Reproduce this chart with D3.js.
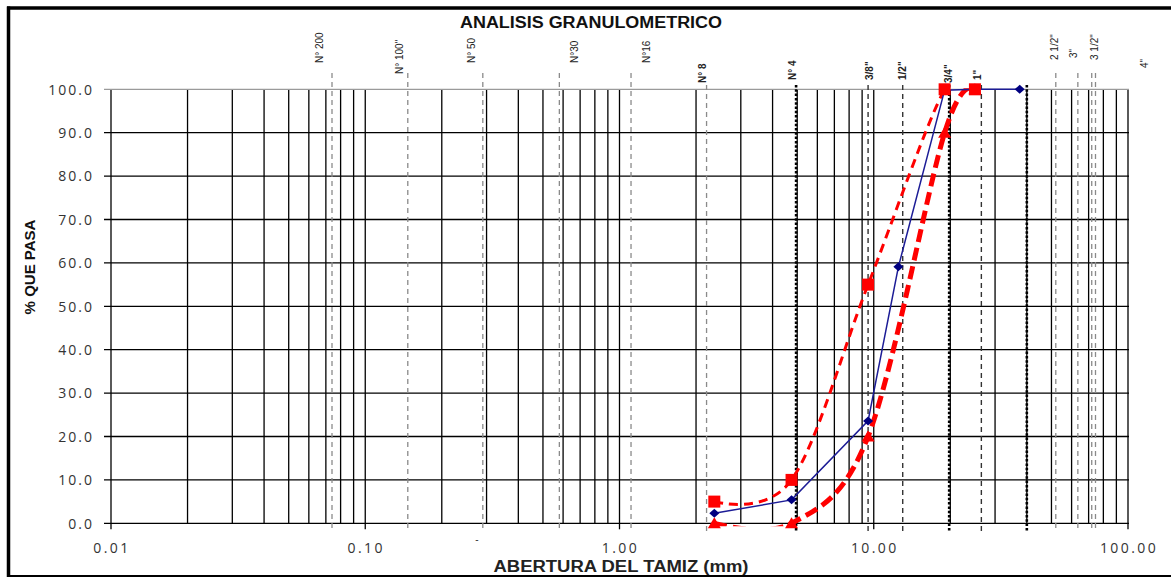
<!DOCTYPE html>
<html>
<head>
<meta charset="utf-8">
<script src="https://cdn.jsdelivr.net/npm/d3@7"></script>
<style>
  html, body { margin: 0; padding: 0; background: #fff; }
  svg { display: block; }
</style>
</head>
<body>
<svg id="chart" width="1171" height="577"></svg>
<script>
// ---- Data -------------------------------------------------------------
// Sample gradation (% passing) at each sieve opening (mm)
const aberturaMuestra = [2.36, 4.75, 9.5, 12.5, 19, 25, 37.5];
const pasaMuestra     = [2.3, 5.4, 23.6, 59.1, 99.8, 100, 100];

// Specification band (upper / lower limits)
const aberturaHuso = [2.36, 4.75, 9.5, 19, 25];
const pasaHusoSup  = [5, 10, 55, 100, 100];
const pasaHusoInf  = [0, 0, 20, 90, 100];

// Vertical reference lines for the standard sieves (mm)
const tamizLineas = [0.074, 0.147, 0.29, 0.58, 1.11, 2.2, 4.95, 9.5, 13, 19.8, 26.5, 40, 52, 63.5, 72, 74.5];

// Sieve names and the opening (mm) each name is written at
const tamizNombres = ['N° 200', 'N° 100"', 'N° 50', 'N°30', 'N°16', 'N° 8', 'N° 4',
                      '3/8"', '1/2"', '3/4"', '1"', '2 1/2"', '3"', '3 1/2"', '4"'];
const tamizRotuloEn = [0.066, 0.136, 0.261, 0.665, 1.277, 2.12, 4.8,
                       9.64, 13.0, 19.6, 25.7, 51.6, 61.3, 73.5, 115.6];

// Axis ticks
const yTicks = [0, 10, 20, 30, 40, 50, 60, 70, 80, 90, 100];
const xTicks = [0.01, 0.1, 1, 10, 100];
const xTickLabels = ['0.01', '0.10', '1.00', '10.00', '100.00'];

// ---- Layout -----------------------------------------------------------
const svg = d3.select('#chart');
const plot = { left: 111, right: 1128, top: 89.3, bottom: 523.3 };

const x = d3.scaleLog().domain([0.01, 100]).range([plot.left, plot.right]);
const y = d3.scaleLinear().domain([0, 100]).range([plot.bottom, plot.top]);

// Outer frame
svg.append('line').attr('x1', 7).attr('x2', 1171).attr('y1', 8).attr('y2', 8)
  .attr('stroke', '#000').attr('stroke-width', 3.5);
svg.append('line').attr('x1', 8.5).attr('x2', 8.5).attr('y1', 6.5).attr('y2', 577)
  .attr('stroke', '#000').attr('stroke-width', 3.5);
svg.append('line').attr('x1', 7).attr('x2', 1171).attr('y1', 576).attr('y2', 576)
  .attr('stroke', '#000').attr('stroke-width', 2);

// Log gridlines (1..9 in every decade)
const minorGrid = [];
for (let e = -2; e <= 1; e++) {
  for (let k = 1; k <= 9; k++) minorGrid.push(k * Math.pow(10, e));
}
minorGrid.push(100);

const grid = svg.append('g').attr('class', 'grid');
grid.selectAll('line.v').data(minorGrid).join('line')
  .attr('class', 'v')
  .attr('x1', d => x(d)).attr('x2', d => x(d))
  .attr('y1', plot.top).attr('y2', plot.bottom)
  .attr('stroke', '#000').attr('stroke-width', 1.3);

grid.selectAll('line.h').data(yTicks).join('line')
  .attr('class', 'h')
  .attr('x1', plot.left - 7).attr('x2', plot.right + 1)
  .attr('y1', d => y(d)).attr('y2', d => y(d))
  .attr('stroke', d => d === 100 ? '#9a9a9a' : '#000')
  .attr('stroke-width', 1.3);

// Decade tick marks below the x axis
grid.selectAll('line.xt').data(xTicks).join('line')
  .attr('class', 'xt')
  .attr('x1', d => x(d)).attr('x2', d => x(d))
  .attr('y1', plot.bottom).attr('y2', plot.bottom + 6)
  .attr('stroke', '#000').attr('stroke-width', 1.3);

// Sieve reference lines
const heavy = new Set([4.95, 19.8, 40]);
const dark = new Set([9.5, 13, 26.5]);
svg.append('g').selectAll('line').data(tamizLineas).join('line')
  .attr('x1', d => x(d)).attr('x2', d => x(d))
  .attr('y1', d => (d >= 2 && d <= 45) ? 85 : 73).attr('y2', 531)
  .attr('stroke', d => heavy.has(d) ? '#000' : dark.has(d) ? '#333' : '#8a8a8a')
  .attr('stroke-width', d => heavy.has(d) ? 2.6 : dark.has(d) ? 1.4 : 1.3)
  .attr('stroke-dasharray', d => heavy.has(d) ? '2.5,1.8' : '5,4');

// Sieve names, written vertically above the plot
const rotuloBase = [63, 74, 63, 63, 63, 83, 80, 80, 80, 83, 80, 60, 58, 60, 68];
const boldNames = new Set([5, 6, 7, 8, 9, 10]);
svg.append('g').selectAll('text').data(tamizNombres).join('text')
  .attr('transform', (d, i) => `translate(${x(tamizRotuloEn[i])},${rotuloBase[i]}) rotate(-90)`)
  .attr('dy', '0.35em')
  .attr('font-family', 'Liberation Sans, Arial, sans-serif')
  .attr('font-size', 10)
  .attr('font-weight', (d, i) => boldNames.has(i) ? 'bold' : 'normal')
  .attr('fill', '#222')
  .text(d => d);

// Axis tick labels
svg.append('g').selectAll('text').data(yTicks).join('text')
  .attr('x', 92).attr('y', d => y(d) + 5.3)
  .attr('text-anchor', 'end')
  .attr('font-family', 'Open Sans, sans-serif')
  .attr('font-size', 14)
  .attr('letter-spacing', '2px')
  .attr('dx', 2)
  .attr('fill', '#333')
  .text(d => d.toFixed(1));

svg.append('g').selectAll('text').data(xTicks).join('text')
  .attr('x', d => x(d) + 1).attr('y', 553)
  .attr('text-anchor', 'middle')
  .attr('font-family', 'Open Sans, sans-serif')
  .attr('font-size', 14)
  .attr('letter-spacing', '2.4px')
  .attr('fill', '#333')
  .text((d, i) => xTickLabels[i]);

// Stray dash below the axis
svg.append('text').attr('x', 477).attr('y', 543)
  .attr('text-anchor', 'middle')
  .attr('font-family', 'Liberation Sans, Arial, sans-serif')
  .attr('font-size', 10).attr('fill', '#333').text('-');

// Titles
svg.append('text').attr('x', 591).attr('y', 27.5)
  .attr('text-anchor', 'middle')
  .attr('font-family', 'Liberation Sans, Arial, sans-serif')
  .attr('font-weight', 'bold').attr('font-size', 16)
  .attr('textLength', 262).attr('lengthAdjust', 'spacingAndGlyphs')
  .attr('fill', '#111')
  .text('ANALISIS GRANULOMETRICO');

svg.append('text').attr('x', 621).attr('y', 572)
  .attr('text-anchor', 'middle')
  .attr('font-family', 'Liberation Sans, Arial, sans-serif')
  .attr('font-weight', 'bold').attr('font-size', 16)
  .attr('textLength', 255).attr('lengthAdjust', 'spacingAndGlyphs')
  .attr('fill', '#222')
  .text('ABERTURA DEL TAMIZ (mm)');

svg.append('text')
  .attr('transform', 'translate(35,267) rotate(-90)')
  .attr('text-anchor', 'middle')
  .attr('font-family', 'Liberation Sans, Arial, sans-serif')
  .attr('font-weight', 'bold').attr('font-size', 15)
  .attr('fill', '#111')
  .text('% QUE PASA');

// ---- Curves -----------------------------------------------------------
svg.append('clipPath').attr('id', 'plotClip')
  .append('rect')
  .attr('x', plot.left).attr('y', plot.top - 1)
  .attr('width', plot.right - plot.left).attr('height', plot.bottom - plot.top + 4);

const curves = svg.append('g').attr('clip-path', 'url(#plotClip)');
// Smoothed band limits (uniform Catmull-Rom / cardinal with zero tension)
const smooth = d3.line().x(d => x(d[0])).y(d => y(d[1])).curve(d3.curveCardinal.tension(0));
const straight = d3.line().x(d => x(d[0])).y(d => y(d[1]));

const inf = aberturaHuso.map((a, i) => [a, pasaHusoInf[i]]);
const sup = aberturaHuso.map((a, i) => [a, pasaHusoSup[i]]);
const muestra = aberturaMuestra.map((a, i) => [a, pasaMuestra[i]]);

curves.append('path').attr('d', smooth(inf))
  .attr('fill', 'none').attr('stroke', '#ff0000')
  .attr('stroke-width', 5).attr('stroke-dasharray', '13,6');

curves.append('path').attr('d', smooth(sup))
  .attr('fill', 'none').attr('stroke', '#ff0000')
  .attr('stroke-width', 3).attr('stroke-dasharray', '9,6');

svg.append('path').attr('d', straight(muestra))
  .attr('fill', 'none').attr('stroke', '#1c1c96')
  .attr('stroke-width', 1.5);

// Markers
svg.append('g').selectAll('path').data(muestra).join('path')
  .attr('d', d => {
    const cx = x(d[0]), cy = y(d[1]);
    return `M${cx},${cy - 4.5}L${cx + 5},${cy}L${cx},${cy + 4.5}L${cx - 5},${cy}Z`;
  })
  .attr('fill', '#000080');

svg.append('g').selectAll('rect').data(sup).join('rect')
  .attr('x', d => x(d[0]) - 6).attr('y', d => y(d[1]) - 6)
  .attr('width', 12).attr('height', 12)
  .attr('fill', '#ff0000');

svg.append('g').selectAll('path').data(inf).join('path')
  .attr('d', d => {
    const cx = x(d[0]), cy = y(d[1]);
    return `M${cx},${cy - 6}L${cx + 6.5},${cy + 5}L${cx - 6.5},${cy + 5}Z`;
  })
  .attr('fill', '#ff0000');
</script>
</body>
</html>
